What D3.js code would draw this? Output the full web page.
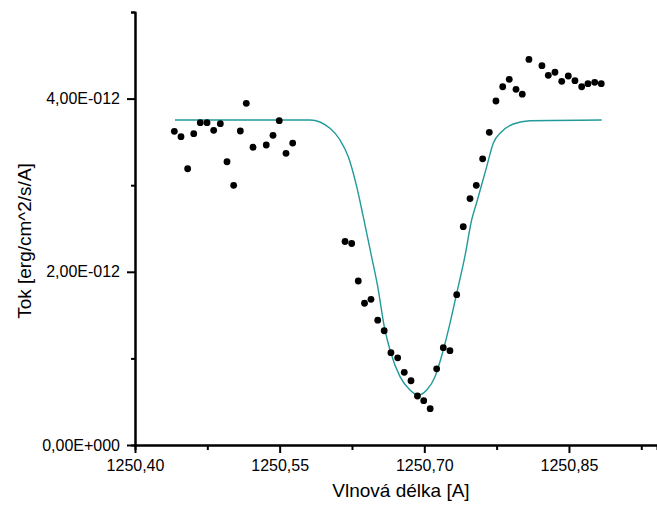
<!DOCTYPE html>
<html lang="cs">
<head>
<meta charset="UTF-8">
<title>Tok</title>
<script src="https://d3js.org/d3.v7.min.js"></script>
<style>
  body { margin: 0; background: #fff; }
  text { font-family: "Liberation Sans", Arial, sans-serif; fill: #000; }
</style>
</head>
<body>
<script>
// measured points (wavelength in A, flux in 1e-12 erg/cm^2/s/A)
var wavelength = [
  1250.4408, 1250.4477, 1250.4546, 1250.4609, 1250.4677, 1250.4747, 1250.4816, 1250.4885,
  1250.4954, 1250.5023, 1250.5092, 1250.5154, 1250.5224, 1250.5361, 1250.5431, 1250.5496,
  1250.5566, 1250.5635,
  1250.6178, 1250.6247, 1250.6315, 1250.6380, 1250.6447, 1250.6517, 1250.6584, 1250.6654,
  1250.6724, 1250.6792, 1250.6862, 1250.6929, 1250.6994, 1250.7061, 1250.7128, 1250.7197,
  1250.7266, 1250.7336, 1250.7404, 1250.7474, 1250.7539, 1250.7605, 1250.7674, 1250.7743,
  1250.7813, 1250.7881, 1250.7951, 1250.8016, 1250.8085, 1250.8220, 1250.8286, 1250.8355,
  1250.8425, 1250.8493, 1250.8562, 1250.8632, 1250.8697, 1250.8767, 1250.8835
];
var flux = [
  3.622, 3.560, 3.190, 3.595, 3.722, 3.722, 3.634, 3.710,
  3.271, 2.999, 3.626, 3.946, 3.438, 3.464, 3.576, 3.745,
  3.368, 3.487,
  2.350, 2.327, 1.894, 1.637, 1.682, 1.441, 1.319, 1.066,
  1.007, 0.839, 0.742, 0.566, 0.512, 0.419, 0.880, 1.124,
  1.089, 1.736, 2.521, 2.846, 2.999, 3.305, 3.611, 3.972,
  4.137, 4.223, 4.107, 4.051, 4.452, 4.380, 4.269, 4.304,
  4.200, 4.261, 4.207, 4.137, 4.172, 4.188, 4.172
];

// fitted profile
var fitWavelength = [
  1250.4415, 1250.5815, 1250.6022, 1250.6126, 1250.6212, 1250.6299, 1250.6367, 1250.6452,
  1250.6517, 1250.6585, 1250.6654, 1250.6748, 1250.6851, 1250.6938, 1250.7025, 1250.7111,
  1250.7197, 1250.7266, 1250.7336, 1250.7422, 1250.7491, 1250.7543, 1250.7647, 1250.7715,
  1250.7802, 1250.7923, 1250.8096, 1250.8839
];
var fitFlux = [
  3.753, 3.753, 3.657, 3.522, 3.329, 2.983, 2.636, 2.182,
  1.828, 1.366, 1.059, 0.789, 0.635, 0.577, 0.635, 0.789,
  1.097, 1.405, 1.752, 2.185, 2.598, 2.800, 3.214, 3.484,
  3.618, 3.707, 3.745, 3.753
];

var xTicks = [1250.40, 1250.55, 1250.70, 1250.85];
var xTickLabels = ["1250,40", "1250,55", "1250,70", "1250,85"];
var xMinorTicks = [1250.475, 1250.625, 1250.775, 1250.925];
var yTicks = [0, 2, 4];
var yTickLabels = ["0,00E+000", "2,00E-012", "4,00E-012"];
var yMinorTicks = [1, 3, 5];

var width = 657;
var height = 515;
var plotLeft = 135, plotBottom = 445, plotTop = 12;

var svg = d3.select("body")
    .append("svg")
    .attr("width", width)
    .attr("height", height);

var x = d3.scaleLinear()
    .domain([1250.40, 1250.9413])
    .range([plotLeft, width]);
var y = d3.scaleLinear()
    .domain([0, 5])
    .range([plotBottom, plotTop]);

// minor ticks first, then major axes on top
svg.append("g")
    .attr("transform", "translate(0," + plotBottom + ")")
    .call(d3.axisBottom(x).tickValues(xMinorTicks).tickSize(5).tickFormat(""));
svg.append("g")
    .attr("transform", "translate(" + plotLeft + ",0)")
    .call(d3.axisLeft(y).tickValues(yMinorTicks).tickSize(4).tickFormat(""));

svg.append("g")
    .attr("transform", "translate(0," + plotBottom + ")")
    .call(d3.axisBottom(x)
        .tickValues(xTicks)
        .tickSize(8)
        .tickSizeOuter(0)
        .tickPadding(7)
        .tickFormat(function (d, i) { return xTickLabels[i]; }));
svg.append("g")
    .attr("transform", "translate(" + plotLeft + ",0)")
    .call(d3.axisLeft(y)
        .tickValues(yTicks)
        .tickSize(8)
        .tickSizeOuter(0)
        .tickPadding(7)
        .tickFormat(function (d, i) { return yTickLabels[i]; }));

svg.selectAll(".domain, .tick line")
    .attr("stroke", "#000")
    .attr("stroke-width", 2);
svg.selectAll(".tick text")
    .style("font-size", "16px")
    .style("font-family", "'Liberation Sans', Arial, sans-serif")
    .attr("fill", "#000");

// fit line
var fitData = fitWavelength.map(function (w, i) { return [w, fitFlux[i]]; });
svg.append("path")
    .datum(fitData)
    .attr("fill", "none")
    .attr("stroke", "#229a9a")
    .attr("stroke-width", 1.4)
    .attr("d", d3.line()
        .x(function (d) { return x(d[0]); })
        .y(function (d) { return y(d[1]); })
        .curve(d3.curveMonotoneX));

// points
svg.selectAll("circle.pt")
    .data(wavelength)
    .enter()
    .append("circle")
    .attr("class", "pt")
    .attr("cx", function (d) { return x(d); })
    .attr("cy", function (d, i) { return y(flux[i]); })
    .attr("r", 3.4)
    .attr("fill", "#000");

// axis titles
svg.append("text")
    .attr("x", 401)
    .attr("y", 497)
    .attr("text-anchor", "middle")
    .style("font-size", "19px")
    .text("Vlnová délka [A]");
svg.append("text")
    .attr("transform", "translate(31,241) rotate(-90)")
    .attr("text-anchor", "middle")
    .style("font-size", "19px")
    .text("Tok [erg/cm^2/s/A]");
</script>
</body>
</html>
